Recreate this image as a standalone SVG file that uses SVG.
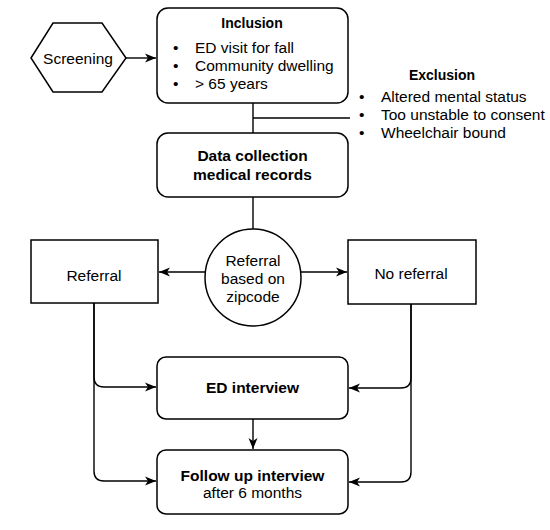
<svg xmlns="http://www.w3.org/2000/svg" width="550" height="530" viewBox="0 0 550 530">
<style>
.box{fill:#fff;stroke:#000;stroke-width:1.5}
.ln{fill:none;stroke:#000;stroke-width:1.4}
text{font-family:"Liberation Sans",Arial,Helvetica,sans-serif;font-size:15.5px;fill:#000}
.c{text-anchor:middle}
.b{font-weight:bold}
.t{font-weight:bold;font-size:14px}
</style>
<defs>
<marker id="arr" viewBox="0 0 12 10" refX="11" refY="5" markerWidth="12" markerHeight="10" markerUnits="userSpaceOnUse" orient="auto">
<path d="M0,0.5 L11,5 L0,9.5 L3,5 Z" fill="#000"/>
</marker>
</defs>
<rect width="550" height="530" fill="#fff"/>
<g id="connectors">
<path class="ln" d="M126,58 H156" marker-end="url(#arr)"/>
<path class="ln" d="M253,103 V133"/>
<path class="ln" d="M253,118 H350"/>
<path class="ln" d="M253,197 V229"/>
<path class="ln" d="M205,272 H159" marker-end="url(#arr)"/>
<path class="ln" d="M301,272 H347" marker-end="url(#arr)"/>
<path class="ln" d="M94,303 V377 Q94,387 104,387 H156" marker-end="url(#arr)"/>
<path class="ln" d="M94,303 V471 Q94,481 104,481 H156" marker-end="url(#arr)"/>
<path class="ln" d="M411,304 V378 Q411,388 401,388 H349" marker-end="url(#arr)"/>
<path class="ln" d="M411,304 V472 Q411,482 401,482 H349" marker-end="url(#arr)"/>
<path class="ln" d="M253,419 V449" marker-end="url(#arr)"/>
</g>
<g id="screening">
<polygon class="box" points="31,58 53,23 102,23 126,58 102,92 53,92"/>
<text class="c" x="78" y="63.5">Screening</text>
</g>
<g id="inclusion">
<rect class="box" x="157" y="8" width="191" height="95" rx="11"/>
<text class="c t" x="252" y="28">Inclusion</text>
<text x="173" y="52.5">•</text><text x="195" y="52.5">ED visit for fall</text>
<text x="173" y="70.5">•</text><text x="195" y="70.5">Community dwelling</text>
<text x="173" y="88.5">•</text><text x="195" y="88.5">&gt; 65 years</text>
</g>
<g id="exclusion">
<text class="c t" x="442" y="80">Exclusion</text>
<text x="359" y="101.5">•</text><text x="381" y="101.5">Altered mental status</text>
<text x="359" y="119.5">•</text><text x="381" y="119.5">Too unstable to consent</text>
<text x="359" y="137.5">•</text><text x="381" y="137.5">Wheelchair bound</text>
</g>
<g id="data-collection">
<rect class="box" x="157" y="133" width="191" height="64" rx="11"/>
<text class="c b" x="252.5" y="161">Data collection</text>
<text class="c b" x="252.5" y="180">medical records</text>
</g>
<g id="zipcode">
<ellipse class="box" cx="253" cy="277.5" rx="48" ry="48.5"/>
<text class="c" x="253" y="265.5">Referral</text>
<text class="c" x="253" y="283.5">based on</text>
<text class="c" x="253" y="302">zipcode</text>
</g>
<g id="referral">
<rect class="box" x="31" y="240" width="127" height="63"/>
<text class="c" x="94" y="281">Referral</text>
</g>
<g id="no-referral">
<rect class="box" x="348" y="240" width="128" height="64"/>
<text class="c" x="411" y="279">No referral</text>
</g>
<g id="ed-interview">
<rect class="box" x="157" y="357" width="191" height="62" rx="9"/>
<text class="c b" x="252.5" y="393">ED interview</text>
</g>
<g id="follow-up">
<rect class="box" x="157" y="450" width="191" height="64" rx="9"/>
<text class="c b" x="252.5" y="480.5">Follow up interview</text>
<text class="c" x="252.5" y="497.5">after 6 months</text>
</g>
</svg>
